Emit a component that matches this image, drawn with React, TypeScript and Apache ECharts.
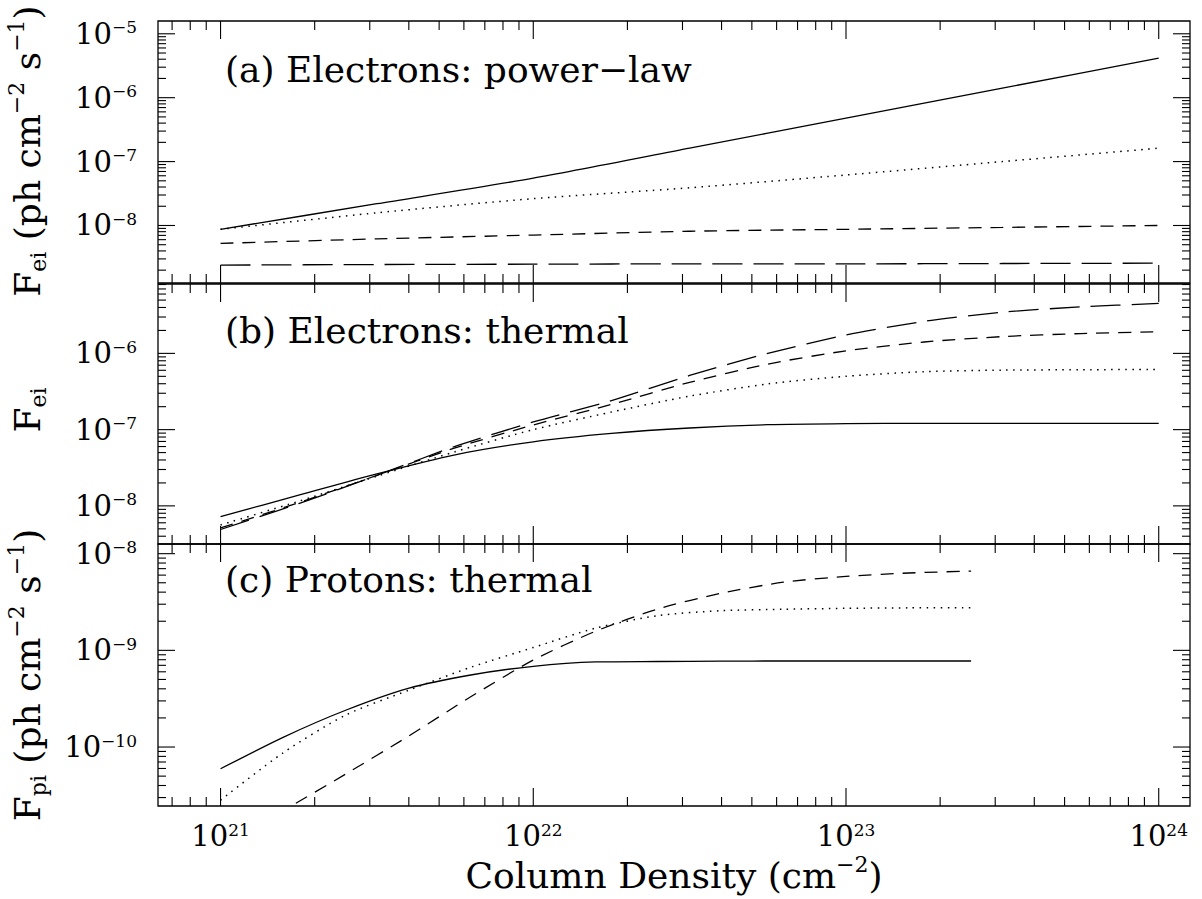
import React, { useEffect, useRef } from 'react';
import * as echarts from 'echarts';

const FONT = '"DejaVu Serif", serif';

// ---------- data (column density in cm^-2, flux in ph cm^-2 s^-1) ----------
const nA = [1e21, 3.162e21, 1e22, 3.162e22, 1e23, 3.162e23, 1e24];
const aSolid = [8.71e-9, 2.19e-8, 5.5e-8, 1.62e-7, 4.79e-7, 1.41e-6, 4.17e-6];
const aDotted = [8.71e-9, 1.58e-8, 2.63e-8, 3.89e-8, 6.17e-8, 1.0e-7, 1.62e-7];
const aShort = [5.25e-9, 6.17e-9, 7.08e-9, 8.13e-9, 8.71e-9, 9.33e-9, 1.0e-8];
const aLong = [2.4e-9, 2.45e-9, 2.48e-9, 2.51e-9, 2.51e-9, 2.54e-9, 2.57e-9];

const nB = [1e21, 1.778e21, 3.162e21, 5.623e21, 1e22, 1.778e22, 3.162e22, 5.623e22, 1e23, 1.778e23, 3.162e23, 5.623e23, 1e24];
const bSolid = [7.24e-9, 1.38e-8, 2.63e-8, 4.68e-8, 6.92e-8, 8.91e-8, 1.05e-7, 1.16e-7, 1.2e-7, 1.21e-7, 1.21e-7, 1.21e-7, 1.21e-7];
const bDotted = [5.62e-9, 1.15e-8, 2.45e-8, 5.13e-8, 1.0e-7, 1.7e-7, 2.75e-7, 3.98e-7, 5.01e-7, 5.75e-7, 6.03e-7, 6.1e-7, 6.17e-7];
const bShort = [5.13e-9, 1.1e-8, 2.51e-8, 5.75e-8, 1.15e-7, 2.14e-7, 4.17e-7, 7.24e-7, 1.08e-6, 1.41e-6, 1.66e-6, 1.82e-6, 1.92e-6];
const bLong = [4.9e-9, 1.07e-8, 2.51e-8, 6.03e-8, 1.26e-7, 2.4e-7, 5.13e-7, 1.0e-6, 1.74e-6, 2.63e-6, 3.47e-6, 4.07e-6, 4.52e-6];

const nC = [1e21, 1.585e21, 2.512e21, 3.981e21, 6.31e21, 1e22, 1.585e22, 2.512e22, 3.981e22, 6.31e22, 1e23, 1.585e23, 2.512e23];
const cSolid = [5.96e-11, 1.26e-10, 2.4e-10, 4.04e-10, 5.56e-10, 6.84e-10, 7.59e-10, 7.67e-10, 7.74e-10, 7.76e-10, 7.76e-10, 7.76e-10, 7.76e-10];
const cDotted = [2.82e-11, 8.71e-11, 2.14e-10, 3.85e-10, 6.68e-10, 1.07e-9, 1.7e-9, 2.29e-9, 2.57e-9, 2.66e-9, 2.72e-9, 2.75e-9, 2.75e-9];
const cDashed = [8.9e-12, 2.19e-11, 5.25e-11, 1.29e-10, 3.31e-10, 7.94e-10, 1.58e-9, 2.69e-9, 3.89e-9, 5.07e-9, 5.82e-9, 6.31e-9, 6.61e-9];

// tick labels (exponents of ten)
const xLabelExp = [21, 22, 23, 24];
const yLabelExpA = [-8, -7, -6, -5];
const yLabelExpB = [-8, -7, -6];
const yLabelExpC = [-10, -9, -8];

// axis ranges (log10)
const X_RANGE = [20.8, 24.1];
const Y_RANGES = [
  [-8.9, -4.8],
  [-8.5, -5.09],
  [-10.61, -7.9],
];

const panelTitles = ['(a) Electrons: power\u2212law', '(b) Electrons: thermal', '(c) Protons: thermal'];

const DOT = [1.5, 5.5];
const SHORT = [13, 9];
const LONG = [30, 11];

function pairs(xs: number[], ys: number[]) {
  return xs.map((x, i) => [x, ys[i]]);
}

function supLabel(exp: number) {
  const s = exp < 0 ? '\u2212' + Math.abs(exp) : String(exp);
  return '{b|10}{s|' + s + '}';
}

const labelRich = {
  b: { fontSize: 29, fontFamily: FONT, lineHeight: 30, color: '#000', verticalAlign: 'middle' },
  s: { fontSize: 17, fontFamily: FONT, lineHeight: 22, color: '#000', verticalAlign: 'top' },
};

function makeFormatter(exps: number[]) {
  return (v: number) => {
    const l = Math.log10(v);
    const r = Math.round(l);
    if (Math.abs(l - r) > 1e-6) return '';
    if (exps.indexOf(r) < 0) return '';
    return supLabel(r);
  };
}

function tickSeries(gi: number) {
  const [x0, x1] = X_RANGE;
  const [y0, y1] = Y_RANGES[gi];
  const data: number[][] = [];
  for (let d = Math.floor(x0); d <= Math.ceil(x1); d++) {
    for (let k = 1; k <= 9; k++) {
      const lv = d + Math.log10(k);
      if (lv >= x0 - 1e-9 && lv <= x1 + 1e-9) data.push([Math.pow(10, lv), Math.pow(10, y0), k === 1 ? 1 : 0, 0]);
    }
  }
  for (let d = Math.floor(y0); d <= Math.ceil(y1); d++) {
    for (let k = 1; k <= 9; k++) {
      const lv = d + Math.log10(k);
      if (lv >= y0 - 1e-9 && lv <= y1 + 1e-9) data.push([Math.pow(10, x0), Math.pow(10, lv), k === 1 ? 1 : 0, 1]);
    }
  }
  return {
    type: 'custom',
    xAxisIndex: gi,
    yAxisIndex: gi,
    silent: true,
    clip: false,
    z: 5,
    data,
    renderItem: (params: any, api: any) => {
      const cs = params.coordSys;
      const isY = api.value(3);
      const major = api.value(2);
      const st = { stroke: '#000', lineWidth: 1.1 };
      if (!isY) {
        const L = major ? 18 : 9;
        const x = api.coord([api.value(0), api.value(1)])[0];
        return {
          type: 'group',
          children: [
            { type: 'line', shape: { x1: x, y1: cs.y + cs.height, x2: x, y2: cs.y + cs.height - L }, style: st },
            { type: 'line', shape: { x1: x, y1: cs.y, x2: x, y2: cs.y + L }, style: st },
          ],
        };
      }
      const L = major ? 17 : 8;
      const y = api.coord([api.value(0), api.value(1)])[1];
      return {
        type: 'group',
        children: [
          { type: 'line', shape: { x1: cs.x, y1: y, x2: cs.x + L, y2: y }, style: st },
          { type: 'line', shape: { x1: cs.x + cs.width, y1: y, x2: cs.x + cs.width - L, y2: y }, style: st },
        ],
      };
    },
  };
}

function lineSeries(gi: number, xs: number[], ys: number[], dash: any) {
  return {
    type: 'line',
    xAxisIndex: gi,
    yAxisIndex: gi,
    data: pairs(xs, ys),
    showSymbol: false,
    symbol: 'none',
    smooth: 0.25,
    clip: true,
    silent: true,
    z: 3,
    lineStyle: { color: '#000', width: dash === DOT ? 1.5 : 1.3, type: dash },
  };
}

const titleRich = {
  F: { fontSize: 36, fontFamily: FONT, lineHeight: 44, color: '#000', verticalAlign: 'middle' },
  sub: { fontSize: 22, fontFamily: FONT, lineHeight: 22, color: '#000', verticalAlign: 'bottom' },
  sup: { fontSize: 22, fontFamily: FONT, lineHeight: 22, color: '#000', verticalAlign: 'top' },
};

function textEl(text: string, x: number, y: number, opts: any = {}) {
  return {
    type: 'text',
    x,
    y,
    rotation: opts.rotation || 0,
    silent: true,
    z: 10,
    style: {
      text,
      rich: titleRich,
      fontSize: 36,
      fontFamily: FONT,
      fill: '#000',
      align: opts.align || 'left',
      verticalAlign: 'middle',
      textAlign: opts.align || 'left',
      textVerticalAlign: 'middle',
    },
  };
}

export default function App() {
  const ref = useRef<HTMLDivElement>(null);
  useEffect(() => {
    document.body.style.margin = '0';
    if (!ref.current) return;
    const chart = echarts.init(ref.current, undefined, { renderer: 'svg' });
    const grids = [
      { left: 158, top: 21, width: 1032, height: 262 },
      { left: 158, top: 284, width: 1032, height: 260 },
      { left: 158, top: 544, width: 1032, height: 262 },
    ].map((g) => ({ ...g, show: true, borderColor: '#000', borderWidth: 1.3, backgroundColor: 'transparent', containLabel: false }));

    const yLabelExps = [yLabelExpA, yLabelExpB, yLabelExpC];
    const xAxis = [0, 1, 2].map((i) => ({
      type: 'log',
      logBase: 10,
      gridIndex: i,
      min: Math.pow(10, X_RANGE[0]),
      max: Math.pow(10, X_RANGE[1]),
      axisLine: { show: false },
      axisTick: { show: false },
      splitLine: { show: false },
      axisLabel:
        i === 2
          ? { show: true, margin: 15, formatter: makeFormatter(xLabelExp), rich: labelRich, showMinLabel: true, showMaxLabel: true }
          : { show: false },
    }));
    const yAxis = [0, 1, 2].map((i) => ({
      type: 'log',
      logBase: 10,
      gridIndex: i,
      min: Math.pow(10, Y_RANGES[i][0]),
      max: Math.pow(10, Y_RANGES[i][1]),
      axisLine: { show: false },
      axisTick: { show: false },
      splitLine: { show: false },
      axisLabel: { show: true, margin: 21, formatter: makeFormatter(yLabelExps[i]), rich: labelRich },
    }));

    const series: any[] = [
      lineSeries(0, nA, aSolid, 'solid'),
      lineSeries(0, nA, aDotted, DOT),
      lineSeries(0, nA, aShort, SHORT),
      lineSeries(0, nA, aLong, LONG),
      lineSeries(1, nB, bSolid, 'solid'),
      lineSeries(1, nB, bDotted, DOT),
      lineSeries(1, nB, bShort, SHORT),
      lineSeries(1, nB, bLong, LONG),
      lineSeries(2, nC, cSolid, 'solid'),
      lineSeries(2, nC, cDotted, DOT),
      lineSeries(2, nC, cDashed, SHORT),
      tickSeries(0),
      tickSeries(1),
      tickSeries(2),
    ];

    const graphic = [
      textEl(panelTitles[0], 225, 69.5),
      textEl(panelTitles[1], 225, 330.5),
      textEl(panelTitles[2], 225, 579.5),
      textEl('{F|F}{sub|ei}{F| (ph cm}{sup|\u22122}{F| s}{sup|\u22121}{F|)}', 27.5, 151, { rotation: Math.PI / 2, align: 'center' }),
      textEl('{F|F}{sub|ei}', 27.5, 410, { rotation: Math.PI / 2, align: 'center' }),
      textEl('{F|F}{sub|pi}{F| (ph cm}{sup|\u22122}{F| s}{sup|\u22121}{F|)}', 27.5, 675, { rotation: Math.PI / 2, align: 'center' }),
      textEl('{F|Column Density (cm}{sup|\u22122}{F|)}', 674, 875.5, { align: 'center' }),
    ];

    chart.setOption({
      animation: false,
      backgroundColor: '#fff',
      textStyle: { fontFamily: FONT },
      grid: grids,
      xAxis,
      yAxis,
      series,
      graphic,
    });
    return () => chart.dispose();
  }, []);
  return <div ref={ref} style={{ width: 1202, height: 899 }} />;
}
